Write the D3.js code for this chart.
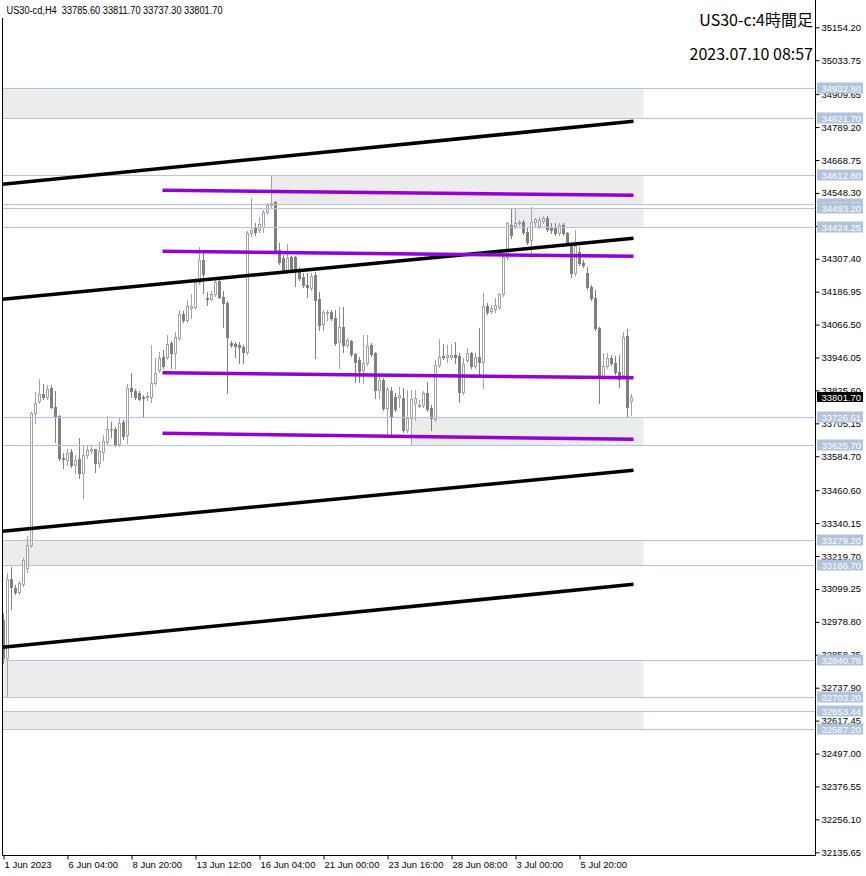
<!DOCTYPE html>
<html><head><meta charset="utf-8">
<script src="https://cdn.jsdelivr.net/npm/d3@7/dist/d3.min.js"></script>
<style>body{margin:0;background:#fff;} svg{display:block;}</style>
</head><body><svg id="c" width="866" height="876"></svg>
<script>
const headerText = "US30-cd,H4  33785.60 33811.70 33737.30 33801.70";
const titleText = "US30-c:4時間足";
const dateText = "2023.07.10 08:57";

const openP = [32984,32845,33135,33101,33087,33116,33175,33259,33742,33786,
33811,33800,33833,33764,33731,33577,33570,33599,33552,33573,
33522,33588,33603,33610,33559,33599,33636,33686,33686,33629,
33709,33661,33833,33822,33815,33800,33800,33800,33852,33899,
33947,33947,33998,33961,34016,34104,34082,34126,34129,34221,
34302,34163,34159,34177,34225,34166,34144,33998,33994,33991,
33983,33965,34400,34422,34411,34422,34477,34503,34514,34338,
34309,34265,34313,34313,34269,34240,34211,34199,34247,34159,
34067,34108,34111,34089,34002,34057,33991,34005,33958,33936,
33899,33925,33991,33961,33826,33863,33760,33822,33800,33800,
33797,33680,33723,33778,33767,33771,33815,33760,33720,33918,
33950,33947,33947,33954,33950,33819,33936,33961,33914,33947,
33929,34133,34115,34122,34129,34177,34313,34430,34426,34437,
34441,34404,34375,34441,34426,34444,34455,34419,34422,34400,
34430,34400,34364,34254,34331,34291,34254,34203,34163,34053,
33874,33914,33943,33925,33892,33881,34024,33785.6];
const highP = [33010,33156,33178,33112,33127,33211,33292,33745,33819,33866,
33848,33844,33844,33822,33734,33595,33613,33613,33588,33650,
33625,33625,33625,33613,33636,33661,33731,33709,33690,33723,
33716,33848,33888,33830,33822,33808,33819,33991,33943,33965,
33972,34027,34005,34038,34119,34115,34155,34177,34236,34349,
34331,34185,34188,34239,34236,34188,34152,34005,34002,34002,
33991,34408,34528,34437,34459,34485,34510,34613,34518,34364,
34320,34360,34316,34316,34276,34254,34254,34254,34258,34185,
34119,34119,34119,34119,34129,34129,34016,34009,33961,33947,
34027,34027,33998,33965,33888,33870,33837,33837,33815,33837,
33833,33826,33826,33826,33789,33822,33855,33771,33936,34013,
33994,33991,33994,34002,33961,33943,33980,33965,33961,34053,
34181,34144,34137,34163,34181,34320,34441,34492,34492,34448,
34448,34419,34496,34455,34459,34463,34463,34437,34437,34437,
34437,34404,34368,34411,34349,34302,34276,34210,34192,34057,
33961,33961,33954,33950,33954,34038,34049,33811.7];
const lowP = [32827,32706,33025,33080,33080,33109,33160,33252,33705,33778,
33793,33793,33760,33636,33570,33541,33552,33544,33522,33504,
33431,33577,33595,33526,33544,33570,33629,33654,33621,33621,
33647,33632,33800,33793,33789,33731,33789,33782,33844,33892,
33906,33940,33906,33906,34009,34075,34075,34089,34122,34214,
34181,34137,34155,34170,34163,34057,33815,33983,33947,33925,
33925,33958,34389,34393,34404,34404,34470,34496,34331,34287,
34258,34258,34262,34207,34229,34203,34166,34192,33943,34046,
34046,34082,34082,33991,33906,33965,33983,33950,33855,33855,
33852,33918,33950,33797,33797,33753,33661,33661,33749,33764,
33672,33672,33629,33716,33764,33764,33749,33680,33712,33910,
33940,33929,33940,33925,33782,33811,33929,33906,33906,33881,
33833,34104,34108,34111,34122,34170,34305,34382,34419,34430,
34397,34360,34313,34422,34419,34437,34408,34400,34393,34393,
34393,34357,34240,34247,34283,34276,34196,34155,34046,33778,
33866,33906,33918,33885,33837,33874,33727,33737.3];
const closeP = [32845,33135,33105,33087,33120,33204,33259,33742,33778,33811,
33800,33830,33764,33731,33577,33573,33595,33552,33570,33522,
33588,33606,33610,33559,33603,33639,33686,33684,33629,33705,
33658,33833,33822,33800,33793,33797,33804,33852,33888,33943,
33914,33994,33961,34020,34104,34082,34133,34133,34221,34302,
34251,34159,34177,34221,34166,34144,34020,33991,33987,33983,
33965,34400,34411,34404,34433,34477,34503,34510,34338,34294,
34265,34309,34269,34265,34236,34211,34203,34243,34155,34064,
34111,34111,34089,33998,34057,33991,34009,33958,33929,33896,
33925,33987,33958,33826,33863,33760,33830,33727,33756,33808,
33680,33723,33793,33797,33771,33815,33756,33723,33918,33947,
33947,33954,33954,33947,33819,33921,33961,33914,33947,33929,
34133,34111,34126,34137,34177,34313,34437,34393,34437,34441,
34404,34368,34441,34452,34448,34455,34415,34411,34400,34430,
34400,34364,34254,34353,34291,34283,34203,34163,34053,33874,
33914,33943,33925,33892,33866,34020,33764,33801.7];

const priceTicks = [35154.20,35033.75,34909.65,34789.20,34668.75,34548.30,34427.85,34307.40,34186.95,34066.50,33946.05,33825.60,33705.15,33584.70,33460.60,33340.15,33219.70,33099.25,32978.80,32858.35,32737.90,32617.45,32497.00,32376.55,32256.10,32135.65];
const timeLabels = ["1 Jun 2023","6 Jun 04:00","8 Jun 20:00","13 Jun 12:00","16 Jun 04:00","21 Jun 00:00","23 Jun 16:00","28 Jun 08:00","3 Jul 00:00","5 Jul 20:00"];
const timeLabelBars = [0,16,32,48,64,80,96,112,128,144];

const levelPrices = [34932.80,34821.70,34612.80,34508.30,34493.20,34424.25,33726.61,33625.70,33279.20,33186.70,32840.78,32703.20,32653.44,32587.20];
const zoneTop    = [34932.80,34612.80,34493.20,33726.61,33279.20,32840.78,32653.44];
const zoneBottom = [34821.70,34508.30,34424.25,33625.70,33186.70,32703.20,32587.20];
const zoneFromBar= [-5,67,127,102,-5,-5,-5];
const zoneToBar  = [160,160,160,160,160,160,160];

const channelFromBar = -0.25, channelToBar = 157.5;
const channelStart = [34579.8,34158.9,33310.1,32885.7];
const channelEnd   = [34810.2,34382.2,33533.3,33116.2];
const hlineFromBar = 39.75, hlineToBar = 157.5;
const hlineStart = [34557.8,34334.6,33890.1,33668.7];
const hlineEnd   = [34539.5,34316.4,33871.8,33646.7];
const lastPrice = 33801.70;

const svg = d3.select("#c");
const W = 866, H = 876;
const plotL = 2.5, plotR = 815.5, plotB = 855.5;
const x = d3.scaleLinear().domain([0,1]).range([3.5,7.5]);
const y = d3.scaleLinear().domain([32135.65,35154.20]).range([852.3,27.3]);
const FONT = "'Liberation Sans', Arial, sans-serif";

svg.append("rect").attr("width",W).attr("height",H).attr("fill","#fff");
svg.append("defs").append("clipPath").attr("id","plot").append("rect")
  .attr("x",plotL).attr("y",0).attr("width",plotR-plotL).attr("height",plotB);
const g = svg.append("g").attr("clip-path","url(#plot)");

// zones
g.selectAll("rect.zone").data(zoneTop).join("rect").attr("class","zone")
  .attr("x",(d,i)=>x(zoneFromBar[i]))
  .attr("width",(d,i)=>x(zoneToBar[i])-x(zoneFromBar[i]))
  .attr("y",d=>y(d))
  .attr("height",(d,i)=>y(zoneBottom[i])-y(d))
  .attr("fill","#ececec");

// candles
const idx = d3.range(openP.length);
const cg = g.append("g");
idx.forEach(i=>{
  const bull = closeP[i] >= openP[i];
  const col = bull ? "#a3a3a3" : "#808080";
  const xc = x(i);
  cg.append("line").attr("x1",xc).attr("x2",xc)
    .attr("y1",Math.round(y(highP[i]))).attr("y2",Math.round(y(lowP[i]))+1)
    .attr("stroke",col).attr("stroke-width",1);
  const yo = Math.round(y(openP[i])), yc = Math.round(y(closeP[i]));
  if(bull){
    cg.append("rect").attr("x",xc-1).attr("width",2)
      .attr("y",yc+0.5).attr("height",Math.max(0,yo-yc))
      .attr("fill","#fff").attr("stroke",col).attr("stroke-width",1);
  } else {
    cg.append("rect").attr("x",xc-1.5).attr("width",3)
      .attr("y",yo).attr("height",Math.max(1,yc-yo+1))
      .attr("fill",col);
  }
});

// level lines
g.selectAll("line.lvl").data(levelPrices).join("line").attr("class","lvl")
  .attr("x1",plotL).attr("x2",plotR)
  .attr("y1",d=>Math.round(y(d))+0.5).attr("y2",d=>Math.round(y(d))+0.5)
  .attr("stroke","#b0c4de").attr("stroke-width",1);

// channel lines
g.selectAll("line.ch").data(channelStart).join("line").attr("class","ch")
  .attr("x1",x(channelFromBar)).attr("x2",x(channelToBar))
  .attr("y1",d=>y(d)).attr("y2",(d,i)=>y(channelEnd[i]))
  .attr("stroke","#000").attr("stroke-width",3.6);

// horizontal purple lines
g.selectAll("line.hl").data(hlineStart).join("line").attr("class","hl")
  .attr("x1",x(hlineFromBar)).attr("x2",x(hlineToBar))
  .attr("y1",d=>y(d)).attr("y2",(d,i)=>y(hlineEnd[i]))
  .attr("stroke","#9400d3").attr("stroke-width",3.6);

// frame
svg.append("line").attr("x1",plotL).attr("x2",plotL).attr("y1",18).attr("y2",plotB).attr("stroke","#000");
svg.append("line").attr("x1",plotR).attr("x2",plotR).attr("y1",0).attr("y2",plotB).attr("stroke","#000");
svg.append("line").attr("x1",plotL).attr("x2",plotR).attr("y1",plotB).attr("y2",plotB).attr("stroke","#000");

// y axis
const ya = svg.append("g").attr("transform",`translate(${plotR},0)`)
  .call(d3.axisRight(y).tickValues(priceTicks).tickSize(4).tickPadding(2).tickFormat(d3.format(".2f")));
ya.select(".domain").remove();
ya.selectAll("line").attr("stroke","#000");
ya.selectAll("text").attr("fill","#000").style("font-family",FONT).style("font-size","9.5px");

// x axis
const xa = svg.append("g").attr("transform",`translate(0,${plotB})`)
  .call(d3.axisBottom(x).tickValues(timeLabelBars).tickSize(4).tickPadding(2).tickFormat((d,i)=>timeLabels[i]));
xa.select(".domain").remove();
xa.selectAll("line").attr("stroke","#000");
xa.selectAll("text").attr("fill","#000").attr("text-anchor","start").attr("dx","0.5")
  .style("font-family",FONT).style("font-size","9.5px");

// level labels
const lg = svg.append("g");
levelPrices.forEach(p=>{
  const yy = Math.round(y(p));
  lg.append("rect").attr("x",plotR+1.5).attr("y",yy-5.5).attr("width",46).attr("height",11).attr("fill","#b0c4de");
  lg.append("text").attr("x",plotR+6).attr("y",yy+3.5).text(d3.format(".2f")(p))
    .attr("fill","#fff").style("font-family",FONT).style("font-size","9.5px");
});
// last price label
{
  const yy = Math.round(y(lastPrice));
  svg.append("rect").attr("x",plotR+1.5).attr("y",yy-5).attr("width",46).attr("height",10).attr("fill","#000");
  svg.append("text").attr("x",plotR+6).attr("y",yy+3.5).text(d3.format(".2f")(lastPrice))
    .attr("fill","#fff").style("font-family",FONT).style("font-size","9.5px");
}

// header
svg.append("text").attr("x",6.5).attr("y",13.5).text(headerText)
  .attr("textLength",216).attr("lengthAdjust","spacingAndGlyphs")
  .style("font-family",FONT).style("font-size","10px").attr("fill","#000").style("white-space","pre");
svg.append("text").attr("x",813).attr("y",26).attr("text-anchor","end").text(titleText)
  .style("font-family","'Noto Sans CJK JP','Noto Sans',sans-serif").style("font-size","16px").attr("fill","#000");
svg.append("text").attr("x",813).attr("y",60).attr("text-anchor","end").text(dateText)
  .style("font-family","'Noto Sans CJK JP','Noto Sans',sans-serif").style("font-size","16px").attr("fill","#000");
</script></body></html>
